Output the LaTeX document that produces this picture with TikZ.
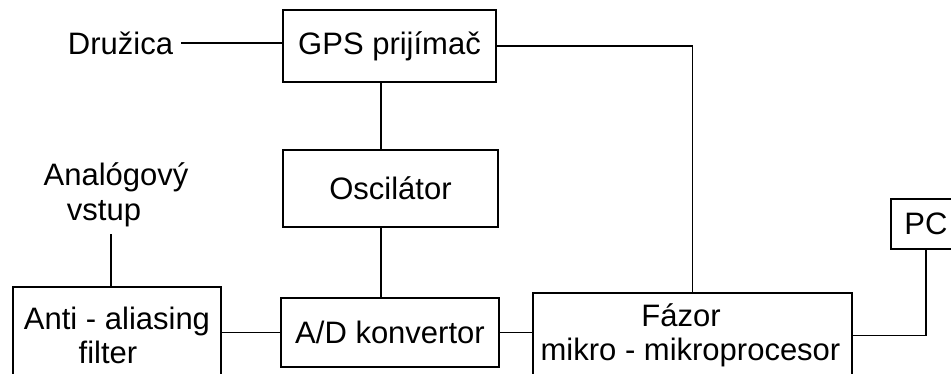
\documentclass[tikz,border=0pt]{standalone}
\usepackage{fontspec}
\setmainfont{Liberation Sans}
\tikzset{
  blk/.style={draw, line width=1.6pt, inner sep=0pt, align=center, font=\fontsize{31}{34}\selectfont},
  lbl/.style={inner sep=0pt, align=center, font=\fontsize{31}{35}\selectfont},
  wire/.style={line width=1.6pt}
}
\begin{document}
\begin{tikzpicture}[x=1pt,y=-1pt]
\useasboundingbox (0,0) rectangle (951,374);
\node[blk, minimum width=213pt, minimum height=72pt] (gps) at (389.5,46) {GPS prijímač};
\node[blk, minimum width=215pt, minimum height=77pt] (osc) at (390.5,188.5) {Oscilátor};
\node[blk, minimum width=218pt, minimum height=69pt] (ad) at (390,332.5) {A/D konvertor};
\node[blk, minimum width=208pt, minimum height=96pt] (aa) at (117,335) {Anti - aliasing\\filter\hspace*{18pt}};
\node[blk, minimum width=319pt, minimum height=85pt] (faz) at (692.5,335.5) {Fázor\hspace*{23pt}\\mikro - mikroprocesor\hspace*{4pt}};
\node[blk, minimum width=70pt, minimum height=50pt] (pc) at (926,224) {PC};
\node[lbl, inner xsep=8pt] (dru) at (120.5,43) {Družica};
\node[lbl, inner sep=7.5pt] (ana) at (111,194.4) {\hspace*{10pt}Analógový\\vstup\hspace*{14pt}};
\coordinate (vx) at (381,0);
\draw[wire] (dru.east) -- (dru.east -| gps.west);
\draw[wire] (gps.south -| vx) -- (osc.north -| vx);
\draw[wire] (osc.south -| vx) -- (ad.north -| vx);
\draw[wire] (ana.south) -- (ana.south |- aa.north);
\draw[wire] (ad.west -| aa.east) -- (ad.west);
\draw[wire] (ad.east) -- (ad.east -| faz.west);
\draw[wire] (gps.east) -| (faz.north);
\draw[wire] (faz.east) -| (pc.south);
\end{tikzpicture}
\end{document}
